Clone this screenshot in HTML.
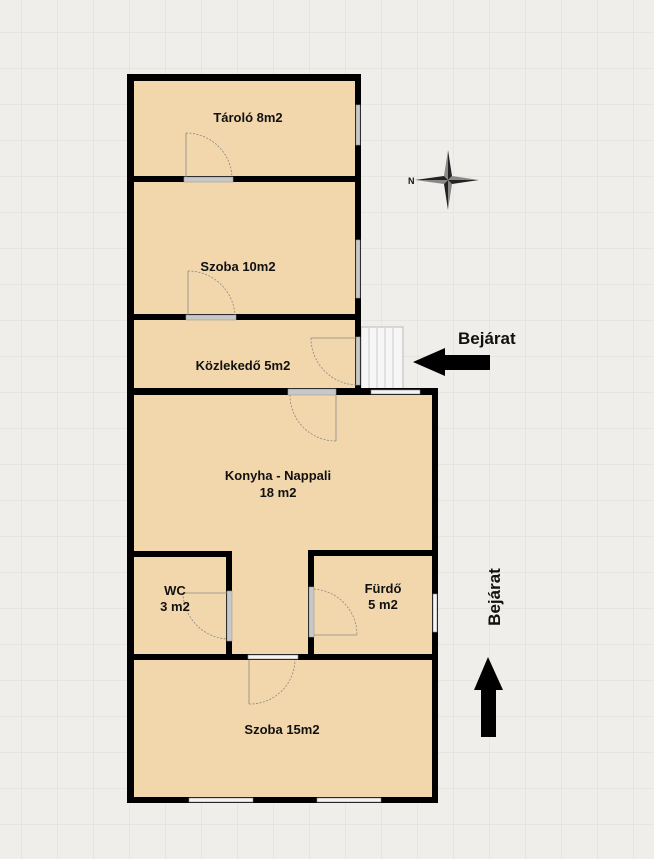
<!DOCTYPE html>
<html><head><meta charset="utf-8"><style>
html,body{margin:0;padding:0;background:#efeeea;}
svg{display:block;}
text{font-family:"Liberation Sans",sans-serif;font-weight:bold;fill:#111;}
</style></head><body>
<svg width="654" height="859" viewBox="0 0 654 859" xmlns="http://www.w3.org/2000/svg">
<defs>
<pattern id="g" x="21" y="32" width="36" height="36" patternUnits="userSpaceOnUse">
<path d="M0 0H36M0 0V36" stroke="#dedcd7" stroke-width="1" fill="none"/>
</pattern>
</defs>
<rect width="654" height="859" fill="#efeeea"/>
<rect width="654" height="859" fill="url(#g)"/>

<!-- floor fills -->
<g fill="#f2d7ad">
<rect x="130" y="78" width="228" height="314"/>
<rect x="130" y="392" width="305" height="408"/>
</g>

<!-- stairs -->
<rect x="361" y="327" width="42" height="64" fill="#f6f6f6" stroke="#bbb" stroke-width="1"/>
<g stroke="#ccc" stroke-width="1">
<line x1="369" y1="328" x2="369" y2="390"/><line x1="377" y1="328" x2="377" y2="390"/>
<line x1="385" y1="328" x2="385" y2="390"/><line x1="393" y1="328" x2="393" y2="390"/>
</g>

<!-- walls -->
<g fill="#000">
<rect x="127" y="74" width="234" height="7"/>
<rect x="127" y="74" width="7" height="729"/>
<rect x="355" y="74" width="6" height="321"/>
<rect x="127" y="176" width="234" height="6"/>
<rect x="127" y="314" width="234" height="6"/>
<rect x="127" y="388" width="311" height="7"/>
<rect x="432" y="393" width="6" height="410"/>
<rect x="127" y="797" width="311" height="6"/>
<rect x="127" y="551" width="105" height="6"/>
<rect x="226" y="551" width="6" height="106"/>
<rect x="308" y="550" width="130" height="6"/>
<rect x="308" y="550" width="6" height="107"/>
<rect x="127" y="654" width="311" height="6"/>
</g>

<!-- openings: gray windows / door thresholds -->
<g fill="#c8c8c8" stroke="#999" stroke-width="0.6">
<rect x="356" y="105" width="4" height="40"/>
<rect x="356" y="240" width="4" height="58"/>
<rect x="356" y="337" width="4" height="48"/>
<rect x="184" y="177" width="49" height="5"/>
<rect x="186" y="315" width="50" height="5"/>
<rect x="288" y="389" width="48" height="6"/>
<rect x="227" y="591" width="5" height="50"/>
<rect x="309" y="587" width="5" height="50"/>
</g>
<g fill="#f4f4f4" stroke="#888" stroke-width="0.6">
<rect x="371" y="390" width="49" height="4"/>
<rect x="433" y="594" width="4" height="38"/>
<rect x="248" y="655" width="50" height="4"/>
<rect x="189" y="798" width="64" height="4"/>
<rect x="317" y="798" width="64" height="4"/>
</g>

<!-- door swings -->
<g fill="none" stroke="#888" stroke-width="0.8">
<path d="M186 177V133"/><path d="M186 133A46 46 0 0 1 232 177" stroke-dasharray="2 1.5"/>
<path d="M188 315V271"/><path d="M188 271A47 47 0 0 1 235 315" stroke-dasharray="2 1.5"/>
<path d="M357 338H311"/><path d="M311 338A47 47 0 0 0 357 385" stroke-dasharray="2 1.5"/>
<path d="M336 395V441"/><path d="M290 395A46 46 0 0 0 336 441" stroke-dasharray="2 1.5"/>
<path d="M227 593H183"/><path d="M183 593A47 47 0 0 0 227 639" stroke-dasharray="2 1.5"/>
<path d="M314 635H357"/><path d="M314 589A46 46 0 0 1 357 635" stroke-dasharray="2 1.5"/>
<path d="M249 660V704"/><path d="M249 704A45 45 0 0 0 295 660" stroke-dasharray="2 1.5"/>
</g>

<!-- labels -->
<g font-size="13" text-anchor="middle">
<text x="248" y="122">Tároló 8m2</text>
<text x="238" y="271">Szoba 10m2</text>
<text x="243" y="370">Közlekedő 5m2</text>
<text x="278" y="480">Konyha - Nappali</text>
<text x="278" y="497">18 m2</text>
<text x="175" y="595">WC</text>
<text x="175" y="611">3 m2</text>
<text x="383" y="593">Fürdő</text>
<text x="383" y="609">5 m2</text>
<text x="282" y="734">Szoba 15m2</text>
</g>

<!-- compass -->
<g transform="translate(448,180)">
<polygon points="0,-30 4,-4 0,0" fill="#222"/><polygon points="0,-30 -4,-4 0,0" fill="#888"/>
<polygon points="0,30 -4,4 0,0" fill="#222"/><polygon points="0,30 4,4 0,0" fill="#888"/>
<polygon points="-33,0 -4,-4 0,0" fill="#222"/><polygon points="-33,0 -4,4 0,0" fill="#888"/>
<polygon points="31,0 4,4 0,0" fill="#222"/><polygon points="31,0 4,-4 0,0" fill="#888"/>
</g>
<text x="408" y="184" font-size="9">N</text>

<!-- entrance arrows -->
<text x="458" y="344" font-size="17">Bejárat</text>
<polygon points="413,362 445,348 445,355 490,355 490,370 445,370 445,376" fill="#000"/>
<text transform="translate(500,597) rotate(-90)" font-size="17" text-anchor="middle">Bejárat</text>
<polygon points="488,657 503,690 496,690 496,737 481,737 481,690 474,690" fill="#000"/>
</svg>
</body></html>
